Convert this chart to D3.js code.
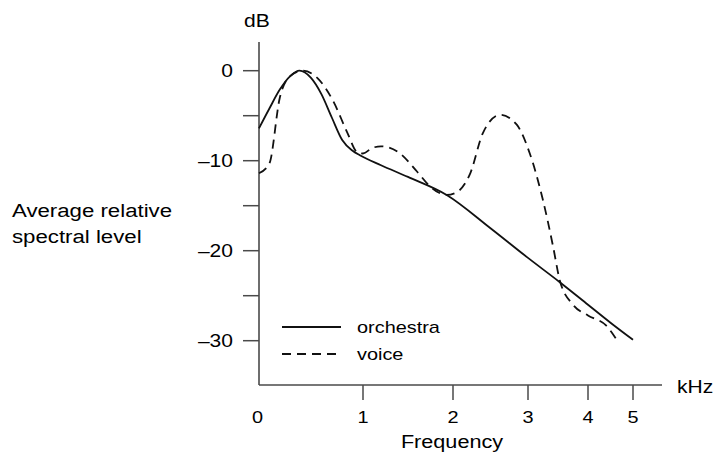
<!DOCTYPE html>
<html>
<head>
  <title>Average relative spectral level</title>
  <meta charset="utf-8" />
  <script src="https://d3js.org/d3.v7.min.js"></script>
  <style>
    body{margin:0;background:#fff;}
    text{font-family:"Liberation Sans",Arial,sans-serif;fill:#000;}
  </style>
</head>
<body>
<script>
// frequency in kHz, level in dB
var orchFreq  = [0, 0.1, 0.2, 0.3, 0.39, 0.5, 0.6, 0.7, 0.8, 0.9, 0.97, 1.2, 1.5, 1.93, 2.5, 3.0, 3.53, 4.0, 4.5, 5.0];
var orchLevel = [-6.4, -4.2, -2.1, -0.6, 0, -0.8, -2.6, -5.2, -7.7, -8.9, -9.4, -10.5, -11.8, -13.8, -17.5, -20.8, -23.5, -26.0, -28.0, -29.9];
var voiceFreq  = [0, 0.1, 0.2, 0.3, 0.42, 0.56, 0.71, 0.85, 0.94, 1.0, 1.1, 1.2, 1.4, 1.6, 1.75, 1.93, 2.05, 2.23, 2.4, 2.63, 2.85, 3.03, 3.25, 3.42, 3.53, 3.75, 4.0, 4.4, 4.64];
var voiceLevel = [-11.4, -10.3, -3.0, -0.6, 0, -0.8, -3.3, -6.9, -9.0, -9.2, -8.6, -8.4, -9.1, -11.2, -12.9, -13.8, -13.5, -11.4, -6.9, -4.9, -6.0, -9.2, -14.4, -19.6, -23.3, -26.0, -27.2, -28.3, -29.9];
var xTicks = [0, 1, 2, 3, 4, 5];
var yMajor = [0, -10, -20, -30];
var yMinor = [-5, -15, -25];
var series = [
  {name:'orchestra', freq:orchFreq, level:orchLevel, dash:null},
  {name:'voice', freq:voiceFreq, level:voiceLevel, dash:'9,6'}
];

var W = 719, H = 454;
var svg = d3.select('body').append('svg').attr('width', W).attr('height', H);

// frequency axis is compressed toward the top end
var x = d3.scaleLinear().domain(xTicks).range([259, 363, 453, 528, 588, 633]);
var y = d3.scaleLinear().domain([0, -10]).range([70.7, 160.7]);
var x0 = 259, yBase = 385, yTop = 42, xEnd = 662;

// the original lettering is a wide helvetica, so stretch it a bit
function label(px, py, str, size, anchor){
  svg.append('g').attr('transform', 'translate(' + px + ',' + py + ') scale(1.17,1)')
    .append('text').attr('text-anchor', anchor || 'start')
    .style('font-size', size + 'px').text(str);
}

var axisCol = '#4a4a4a';
// axes lines
svg.append('line').attr('x1', x0).attr('x2', x0).attr('y1', yTop).attr('y2', yBase)
  .attr('stroke', axisCol).attr('stroke-width', 1.6);
svg.append('line').attr('x1', x0).attr('x2', xEnd).attr('y1', yBase).attr('y2', yBase)
  .attr('stroke', axisCol).attr('stroke-width', 1.6);

// y ticks
svg.selectAll('.ytick').data(yMajor.concat(yMinor)).enter().append('line')
  .attr('x1', x0 - 16).attr('x2', x0)
  .attr('y1', function(d){return y(d);}).attr('y2', function(d){return y(d);})
  .attr('stroke', axisCol).attr('stroke-width', 1.5);
yMajor.forEach(function(d){
  label(233, y(d) + 6.5, d === 0 ? '0' : '\u2013' + Math.abs(d), 18, 'end');
});

// x ticks
svg.selectAll('.xtick').data(xTicks.slice(1)).enter().append('line')
  .attr('x1', function(d){return x(d);}).attr('x2', function(d){return x(d);})
  .attr('y1', yBase).attr('y2', yBase + 15)
  .attr('stroke', axisCol).attr('stroke-width', 1.5);
xTicks.forEach(function(d){
  label(x(d) - (d === 0 ? 1.5 : 0), 422.5, String(d), 17, 'middle');
});

// axis titles
label(244, 27, 'dB', 18);
label(677, 393, 'kHz', 18);
label(452, 447.5, 'Frequency', 18.5, 'middle');
label(12, 217, 'Average relative', 19);
label(12, 243, 'spectral level', 19);

// curves
var line = d3.line()
  .x(function(d){return x(d[0]);})
  .y(function(d){return y(d[1]);})
  .curve(d3.curveMonotoneX);
series.forEach(function(s){
  var pts = s.freq.map(function(f, i){return [f, s.level[i]];});
  svg.append('path').datum(pts).attr('d', line)
    .attr('fill', 'none').attr('stroke', '#111').attr('stroke-width', 1.8)
    .attr('stroke-dasharray', s.dash);
});

// legend
series.forEach(function(s, i){
  var ly = 327 + i * 27;
  svg.append('line').attr('x1', 282).attr('x2', 341).attr('y1', ly).attr('y2', ly)
    .attr('stroke', '#111').attr('stroke-width', 1.8)
    .attr('stroke-dasharray', s.dash);
  label(357, ly + 6, s.name, 17);
});
</script>
</body>
</html>
